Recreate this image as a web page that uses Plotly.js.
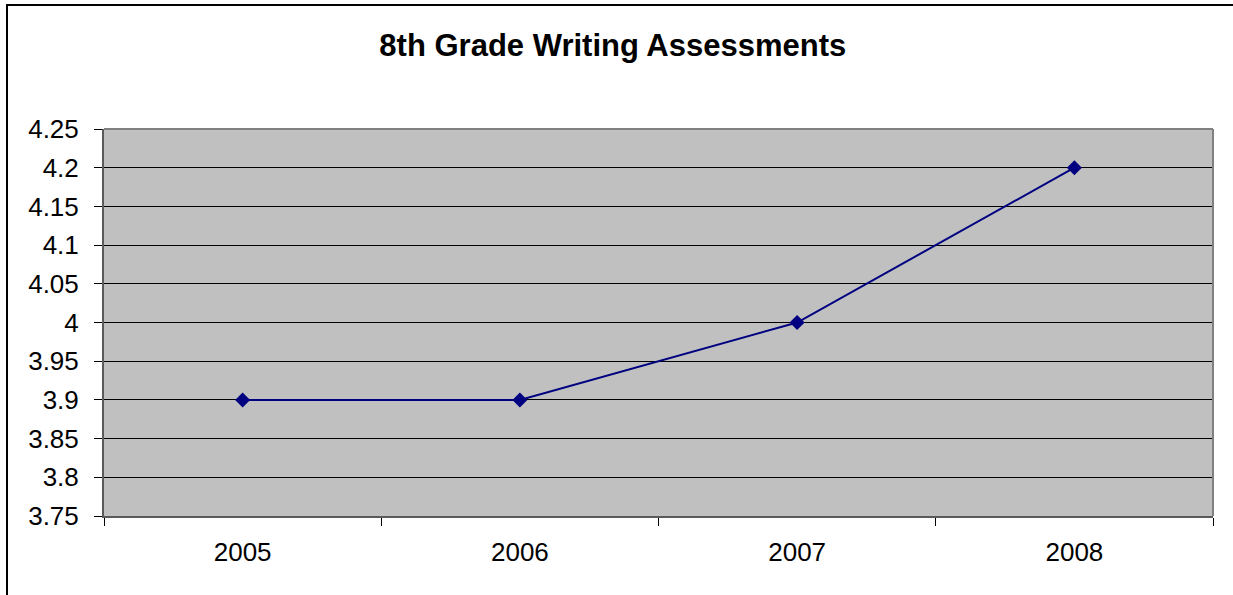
<!DOCTYPE html>
<html>
<head>
<meta charset="utf-8">
<script src="https://cdn.plot.ly/plotly-3.0.1.min.js"></script>
<style>
  html, body { margin: 0; padding: 0; background: #ffffff; overflow: hidden; }
  #chart { width: 1233px; height: 595px; position: absolute; left: 0; top: 0; }
  #frame {
    position: absolute; left: 6px; top: 4px; width: 1400px; height: 800px;
    border-left: 2px solid #000; border-top: 2px solid #000;
    pointer-events: none; box-sizing: border-box;
  }
</style>
</head>
<body>
<div id="chart"></div>
<div id="frame"></div>
<script>
// Average 8th grade writing scores by year
const years = ['2005', '2006', '2007', '2008'];
const scores = [3.9, 3.9, 4.0, 4.2];

// Value axis ticks
const yTickVals = [3.75, 3.8, 3.85, 3.9, 3.95, 4.0, 4.05, 4.1, 4.15, 4.2, 4.25];
const yTickText = ['3.75', '3.8', '3.85', '3.9', '3.95', '4', '4.05', '4.1', '4.15', '4.2', '4.25'];

const trace = {
  x: years,
  y: scores,
  type: 'scatter',
  mode: 'lines+markers',
  line: { color: '#000080', width: 2 },
  marker: { symbol: 'diamond', size: 11.5, color: '#000080' },
  hoverinfo: 'x+y'
};

// Light grey frame on the top and right edges of the plot area
const frameLines = [
  { type: 'line', xref: 'paper', yref: 'paper', x0: 0, x1: 1, y0: 1, y1: 1,
    line: { color: '#808080', width: 2 }, layer: 'above' },
  { type: 'line', xref: 'paper', yref: 'paper', x0: 1, x1: 1, y0: 0, y1: 1,
    line: { color: '#808080', width: 2 }, layer: 'above' }
];

const layout = {
  width: 1233,
  height: 595,
  margin: { l: 104, r: 20, t: 129, b: 79 },
  paper_bgcolor: '#ffffff',
  plot_bgcolor: '#C0C0C0',
  showlegend: false,
  font: { family: 'Liberation Sans, Arial, sans-serif', color: '#000000' },
  title: {
    text: '<b>8th Grade Writing Assessments</b>',
    font: { size: 31, color: '#000000', family: 'Liberation Sans, Arial, sans-serif' },
    xref: 'container', x: 0.497, xanchor: 'center',
    yref: 'container', y: 1 - 45 / 595, yanchor: 'middle'
  },
  shapes: frameLines,
  xaxis: {
    type: 'category',
    range: [-0.5, 3.5],
    tickson: 'boundaries',
    ticks: 'outside', ticklen: 8, tickwidth: 1, tickcolor: '#000000',
    showgrid: false,
    showline: true, linecolor: '#5a5a5a', linewidth: 2,
    tickfont: { size: 26, color: '#000000' },
    ticklabelstandoff: 12,
    zeroline: false, fixedrange: true
  },
  yaxis: {
    range: [3.75, 4.25],
    tickmode: 'array', tickvals: yTickVals, ticktext: yTickText,
    ticks: 'outside', ticklen: 8, tickwidth: 1, tickcolor: '#000000',
    showgrid: true, gridcolor: '#000000', gridwidth: 1,
    showline: true, linecolor: '#5a5a5a', linewidth: 2,
    tickfont: { size: 26, color: '#000000' },
    ticklabelstandoff: 10,
    zeroline: false, fixedrange: true
  }
};

Plotly.newPlot('chart', [trace], layout, { displayModeBar: false, staticPlot: true });
</script>
</body>
</html>
